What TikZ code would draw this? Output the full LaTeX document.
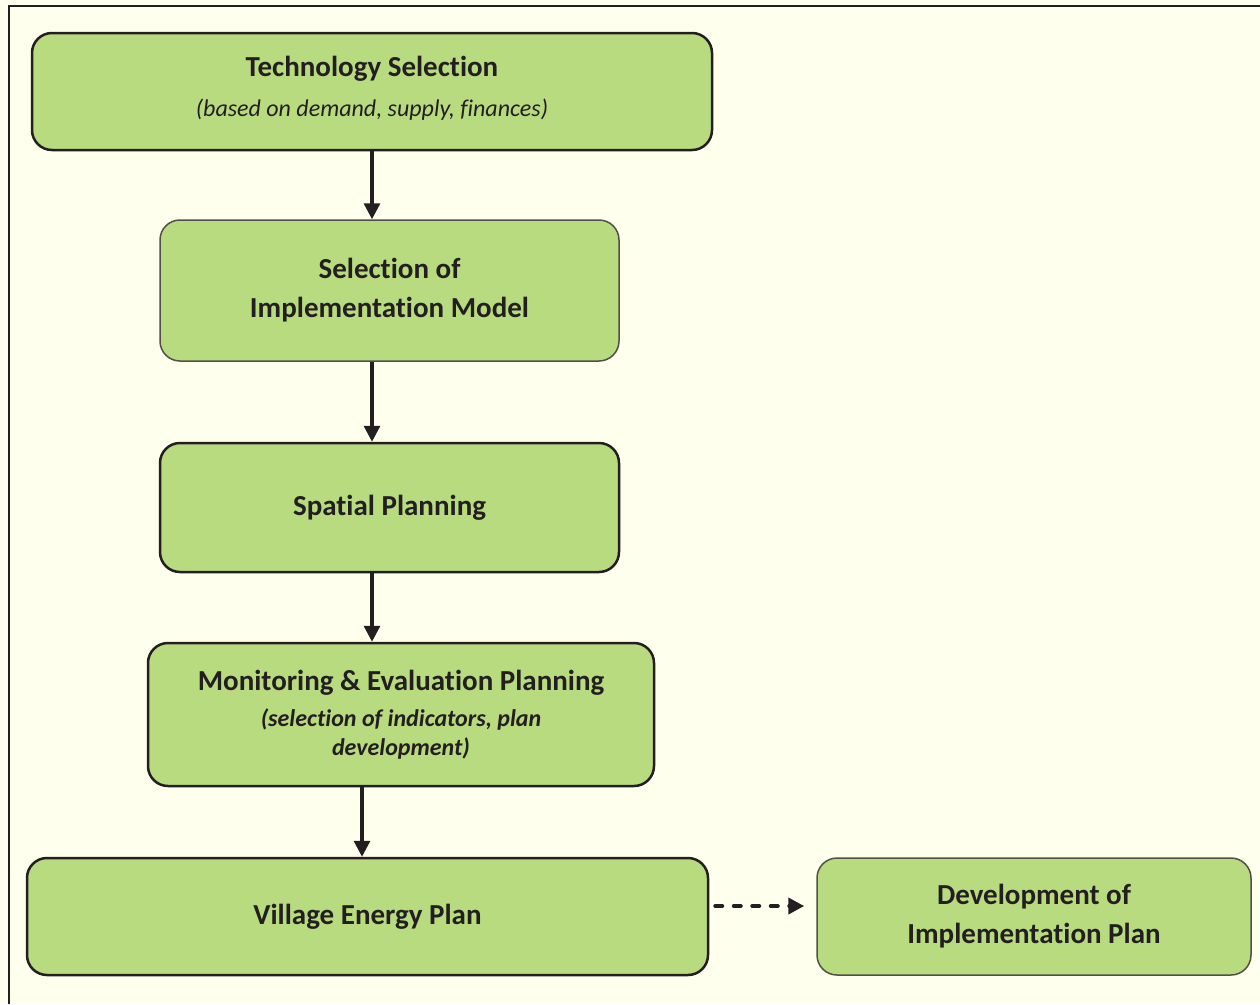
\documentclass[tikz,border=0pt]{standalone}
\usepackage{fontspec}
\setmainfont{Carlito}[Ligatures={NoCommon}]
\usetikzlibrary{arrows.meta}
\definecolor{bgc}{RGB}{255,255,238}
\definecolor{boxg}{RGB}{185,219,128}
\definecolor{ink}{RGB}{35,31,32}
\definecolor{thinb}{RGB}{80,80,70}
\tikzset{
  stagebox/.style={draw=ink, line width=2.5pt, fill=boxg, rounded corners=20pt,
    inner sep=0pt, align=center, text=ink,
    font=\fontsize{29}{39}\selectfont\bfseries},
  thinbox/.style={stagebox, draw=thinb, line width=1.5pt},
  boxtext/.style={inner sep=0pt, align=center, text=ink,
    font=\fontsize{29}{39}\selectfont\bfseries},
  flow/.style={draw=ink, line width=3.2pt, -{Triangle[length=16pt,width=16pt]}},
  dflow/.style={draw=ink, line width=4pt, line cap=round, dash pattern=on 7pt off 11.5pt,
    -{Triangle[length=16pt,width=16pt,line cap=butt]}}
}
\newcommand{\subit}{\fontsize{24}{30}\selectfont\mdseries\itshape}
\newcommand{\subbi}{\fontsize{24}{30}\selectfont\bfseries\itshape}
\begin{document}
\begin{tikzpicture}[x=1pt,y=-1pt]
\useasboundingbox (0,0) rectangle (1260,1004);
\fill[bgc] (0,0) rectangle (1260,1004);
\draw[ink, line width=2.5pt] (9,1004) -- (9,6) -- (1260,6);

\node[stagebox, minimum width=680pt, minimum height=117pt] (t) at (372,91.5) {};
\node[boxtext] (tl) at (372,88.5)
  {Technology Selection\\[1pt]{\subit (based on demand, supply, finances)}};
\node[thinbox, minimum width=459pt, minimum height=141pt] (s) at (389.5,290.5)
  {Selection of\\Implementation Model};
\node[stagebox, minimum width=459pt, minimum height=129pt] (p) at (389.5,507.5)
  {Spatial Planning};
\node[stagebox, minimum width=506pt, minimum height=143pt] (m) at (401,714.5)
  {Monitoring \& Evaluation Planning\\[-3pt]{\subbi (selection of indicators, plan}\\[-10pt]{\subbi development)}};
\node[stagebox, minimum width=681pt, minimum height=117pt] (v) at (367.5,916.5)
  {Village Energy Plan};
\node[thinbox, minimum width=434pt, minimum height=117pt] (d) at (1034,916.5)
  {Development of\\Implementation Plan};

\coordinate (ax) at (362,0);
\coordinate (dy) at (0,906);
\draw[flow] (t.south) -- (t.south |- s.north);
\draw[flow] (s.south -| t.south) -- (p.north -| t.south);
\draw[flow] (p.south -| t.south) -- (m.north -| t.south);
\draw[flow] (m.south -| ax) -- (v.north -| ax);
\draw[dflow, shorten <=6pt, shorten >=12pt] (v.east |- dy) -- (d.west |- dy);
\end{tikzpicture}
\end{document}
